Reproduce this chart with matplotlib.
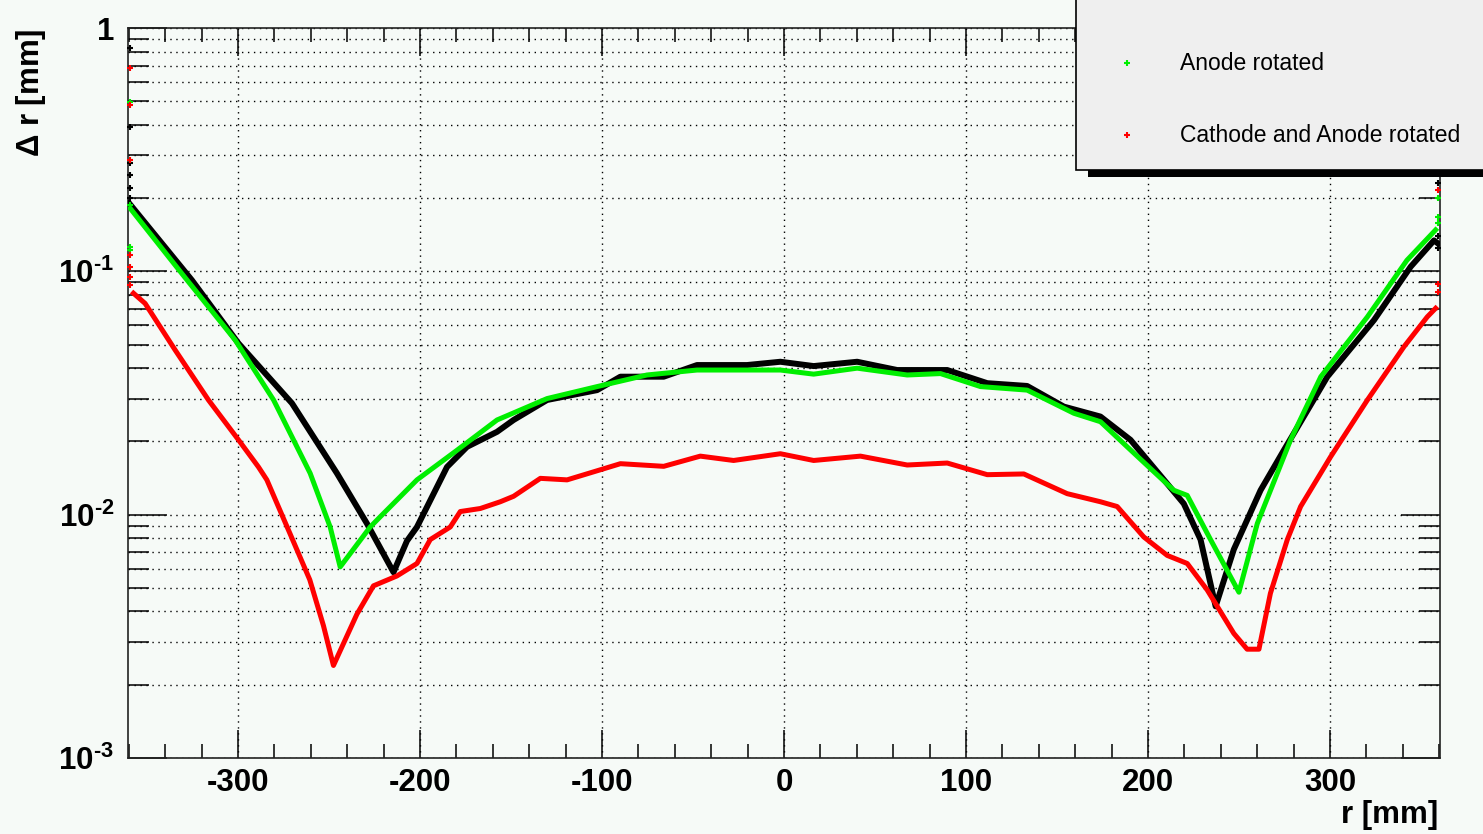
import numpy as np
import matplotlib
matplotlib.use("Agg")
import matplotlib.pyplot as plt
import matplotlib.ticker as mticker
from matplotlib.patches import Rectangle
from matplotlib.lines import Line2D

plt.rcParams['font.family'] = ['Liberation Sans', 'DejaVu Sans']
plt.rcParams['mathtext.fontset'] = 'custom'
plt.rcParams['mathtext.rm'] = 'Liberation Sans:bold'
plt.rcParams['mathtext.bf'] = 'Liberation Sans:bold'
plt.rcParams['mathtext.it'] = 'Liberation Sans:bold'

# Cathode rotated (black)
cath_r = [-360, -325.4, -299.8, -270.4, -245.7, -229.2, -214.6, -207.2, -201.7, -185.2,
          -174.2, -157.7, -148.6, -130.2, -102.7, -89.9, -66.1, -47.8, -20.3, -2,
          16.3, 40.2, 62.2, 89.7, 111.7, 133.6, 153.8, 173.9, 190.4, 210.6,
          219.7, 228.9, 237.2, 247.2, 261.9, 274.7, 298.6, 324.2, 344.4, 357.2, 359.5]
cath_dr = [0.191, 0.092, 0.0506, 0.0287, 0.0148, 0.0092, 0.0058, 0.0078, 0.0089, 0.0157,
           0.019, 0.0219, 0.0245, 0.0296, 0.0325, 0.0369, 0.0369, 0.0412, 0.0412, 0.0425,
           0.0408, 0.0425, 0.0393, 0.0393, 0.0347, 0.0338, 0.0278, 0.0253, 0.0203, 0.0134,
           0.0111, 0.0079, 0.0042, 0.0072, 0.0126, 0.0184, 0.0369, 0.063, 0.1045, 0.134, 0.13]

# Anode rotated (green)
anod_r = [-359.3, -330, -301.6, -280.5, -260.4, -249.4, -243.9, -227.4, -221.9, -201.7,
          -179.7, -157.7, -130.2, -102.7, -75.3, -47.8, -2, 16.3, 40.2, 67.7,
          86, 108, 133.6, 159.3, 173.9, 188.6, 214.2, 221.6, 234.4, 250,
          260.1, 278.4, 295, 320.6, 342.3, 358.1]
anod_dr = [0.1815, 0.096, 0.0522, 0.0296, 0.0148, 0.0089, 0.0061, 0.0089, 0.0098, 0.0139,
           0.0184, 0.0245, 0.030, 0.0336, 0.0375, 0.0393, 0.0393, 0.0378, 0.040, 0.0375,
           0.038, 0.0336, 0.0325, 0.0261, 0.0241, 0.019, 0.0126, 0.012, 0.0079, 0.0048,
           0.0092, 0.0203, 0.0369, 0.065, 0.111, 0.148]

# Cathode and Anode rotated (red)
both_r = [-357.5, -351.1, -334.6, -316.3, -299.8, -288.8, -284.2, -271.6, -260.6, -253.1,
          -247.6, -234.7, -225.6, -212.7, -201.7, -194.4, -183.4, -177.9, -166.9, -155.9,
          -148.6, -133.9, -119.2, -104.6, -89.9, -66.1, -46, -27.7, -2, 16.3,
          42, 67.7, 89.7, 111.7, 131.8, 155.6, 173.9, 183.1, 197.7, 210.6,
          221.6, 232.6, 247.2, 254.5, 261, 267.3, 276.6, 283.9, 300.4, 320.6,
          340.7, 353.5, 358.1]
both_dr = [0.0813, 0.0738, 0.0475, 0.0296, 0.0203, 0.0157, 0.0139, 0.0084, 0.0054, 0.0035,
           0.0024, 0.0039, 0.0051, 0.0056, 0.0063, 0.0079, 0.0089, 0.0103, 0.0106, 0.0113,
           0.0119, 0.0141, 0.0139, 0.015, 0.0162, 0.0158, 0.0174, 0.0167, 0.0178, 0.0167,
           0.0174, 0.016, 0.0163, 0.0146, 0.0147, 0.0122, 0.0113, 0.0108, 0.0081, 0.0068,
           0.0063, 0.0049, 0.00325, 0.0028, 0.0028, 0.00475, 0.0079, 0.0108, 0.0173, 0.0296,
           0.049, 0.065, 0.0705]

# outlying points in the edge bins
cath_edge_r = [-359.5] * 6 + [359.5] * 3
cath_edge_dr = [0.825, 0.393, 0.28, 0.25, 0.22, 0.2, 0.23, 0.14, 0.125]
anod_edge_r = [-359.5] * 5 + [359.5] * 3
anod_edge_dr = [0.498, 0.288, 0.187, 0.126, 0.122, 0.2, 0.168, 0.158]
both_edge_r = [-359.5] * 7 + [359.5] * 3
both_edge_dr = [0.683, 0.482, 0.288, 0.117, 0.104, 0.095, 0.088, 0.216, 0.089, 0.0826]

series_labels = ['Cathode rotated', 'Anode rotated', 'Cathode and Anode rotated']
series_colors = ['black', '#00ee00', '#ff0000']

bg = '#f6faf7'
W, H = 1483, 834
fig = plt.figure(figsize=(W / 100, H / 100), dpi=100, facecolor=bg)
ax = fig.add_axes([128 / W, 1 - 758 / H, (1440 - 128) / W, (758 - 28) / H])
ax.set_facecolor(bg)

ax.plot(cath_r, cath_dr, color=series_colors[0], lw=4.3, solid_joinstyle='round', zorder=3)
ax.plot(anod_r, anod_dr, color=series_colors[1], lw=3.6, solid_joinstyle='round', zorder=4)
ax.plot(both_r, both_dr, color=series_colors[2], lw=3.6, solid_joinstyle='round', zorder=5)
ax.plot(cath_edge_r, cath_edge_dr, '+', color=series_colors[0], ms=5, mew=1.5, zorder=3, clip_on=False)
ax.plot(anod_edge_r, anod_edge_dr, '+', color=series_colors[1], ms=5, mew=1.5, zorder=4, clip_on=False)
ax.plot(both_edge_r, both_edge_dr, '+', color=series_colors[2], ms=5, mew=1.5, zorder=5, clip_on=False)

ax.set_yscale('log')
ax.set_xlim(-360.5, 360.5)
ax.set_ylim(1e-3, 1)

ax.xaxis.set_major_locator(mticker.MultipleLocator(100))
ax.xaxis.set_minor_locator(mticker.MultipleLocator(20))
ax.yaxis.set_minor_locator(mticker.LogLocator(base=10, subs=np.arange(2, 10), numticks=20))
ax.yaxis.set_minor_formatter(mticker.NullFormatter())
ax.set_yticks([1e-3, 1e-2, 1e-1, 1])
ax.set_yticklabels([r'$10^{\text{-}3}$', r'$10^{\text{-}2}$', r'$10^{\text{-}1}$', '1'])
ax.set_xticks([-300, -200, -100, 0, 100, 200, 300])
ax.set_xticklabels(['-300', '-200', '-100', '0', '100', '200', '300'])

for lab in ax.get_xticklabels() + ax.get_yticklabels():
    lab.set_fontweight('bold')
    lab.set_fontsize(22.5)

ax.tick_params(axis='x', which='major', direction='in', length=20, width=1.1, top=True, pad=7)
ax.tick_params(axis='x', which='minor', direction='in', length=10, width=1.1, top=True)
ax.tick_params(axis='y', which='major', direction='in', length=28, width=1.1, right=True, pad=10)
ax.tick_params(axis='y', which='minor', direction='in', length=15, width=1.1, right=True)

grid_style = dict(color='black', linestyle=(0, (1, 3.3)), linewidth=1.0)
ax.grid(True, which='major', axis='x', **grid_style)
ax.grid(True, which='both', axis='y', **grid_style)
ax.set_axisbelow(True)

for s in ax.spines.values():
    s.set_linewidth(1.2)
    s.set_color('#222222')

fig.text(31 / W, 1 - 28 / H, r'$\Delta$ r [mm]', rotation=90, ha='center', va='top',
         fontsize=22.5, fontweight='bold')
fig.text(1438 / W, 1 - 815 / H, 'r [mm]', ha='right', va='center',
         fontsize=22.5, fontweight='bold')

# legend box (cut by the top and right edges)
fig.patches.append(Rectangle((1088 / W, 1 - 177 / H), 1, 1, transform=fig.transFigure,
                             facecolor='black', edgecolor='none', zorder=10))
fig.patches.append(Rectangle((1076 / W, 1 - 170 / H), 1, 1, transform=fig.transFigure,
                             facecolor='#efefef', edgecolor='black', lw=1.2, zorder=11))
legend_y = [-7, 63, 135]
for lab, col, yy in zip(series_labels, series_colors, legend_y):
    fig.add_artist(Line2D([1127 / W], [1 - yy / H], marker='+', color=col, ms=5, mew=1.5,
                          transform=fig.transFigure, zorder=12))
    fig.text(1180 / W, 1 - yy / H, lab, ha='left', va='center', fontsize=16.5, zorder=12)

fig.savefig('out.png', dpi=100, facecolor=bg)
